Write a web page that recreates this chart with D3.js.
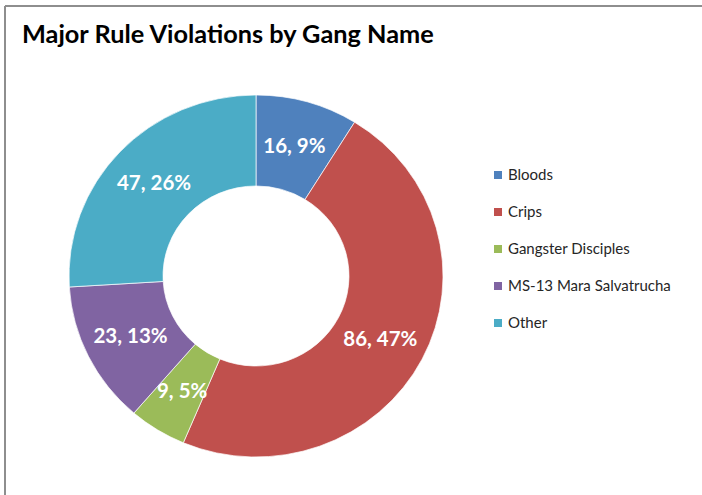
<!DOCTYPE html>
<html>
<head>
<meta charset="utf-8">
<script src="https://cdn.jsdelivr.net/npm/d3@7"></script>
<style>
  body { margin: 0; background: #fff; }
  svg { display: block; }
</style>
</head>
<body>
<div id="chart"></div>
<script>
const gangs = ["Bloods", "Crips", "Gangster Disciples", "MS-13 Mara Salvatrucha", "Other"];
const counts = [16, 86, 9, 23, 47];
const percentLabels = ["9%", "47%", "5%", "13%", "26%"];
const colors = ["#4F81BD", "#C0504D", "#9BBB59", "#8064A2", "#4BACC6"];

const width = 702, height = 495;
const cx = 256, cy = 276;
const outerR = 187, innerR = 93;
const squash = 181 / 187;   // the picture is a bit flatter than round

const svg = d3.select("#chart").append("svg")
    .attr("width", width)
    .attr("height", height);

// frame (only top and left edges show)
svg.append("line")
    .attr("x1", 5).attr("x2", width).attr("y1", 6).attr("y2", 6)
    .style("stroke", "#8e8e8e").style("stroke-width", 2);
svg.append("line")
    .attr("x1", 5).attr("x2", 5).attr("y1", 6).attr("y2", height)
    .style("stroke", "#8e8e8e").style("stroke-width", 2);

svg.append("text")
    .attr("x", 22)
    .attr("y", 43)
    .attr("font-family", "Lato, 'Open Sans', sans-serif")
    .attr("font-weight", "bold")
    .attr("font-size", 25.3)
    .attr("fill", "#000")
    .text("Major Rule Violations by Gang Name");

const data = gangs.map((g, i) => ({ name: g, value: counts[i], pct: percentLabels[i], color: colors[i] }));

const pie = d3.pie().value(d => d.value).sort(null);
const arcs = pie(data);

const arc = d3.arc().innerRadius(innerR).outerRadius(outerR);
const labelArc = d3.arc().innerRadius((innerR + outerR) / 2).outerRadius((innerR + outerR) / 2);

const donut = svg.append("g")
    .attr("transform", `translate(${cx},${cy}) scale(1,${squash})`);

donut.selectAll("path")
    .data(arcs)
    .join("path")
    .attr("d", arc)
    .attr("fill", d => d.data.color)
    .attr("stroke", "#fff")
    .attr("stroke-width", 0.7);

svg.append("g")
    .selectAll("text")
    .data(arcs)
    .join("text")
    .attr("x", d => cx + labelArc.centroid(d)[0])
    .attr("y", d => cy + 2 + labelArc.centroid(d)[1] * squash)
    .attr("text-anchor", "middle")
    .attr("dominant-baseline", "middle")
    .attr("font-family", "Lato, 'Open Sans', sans-serif")
    .attr("font-weight", "bold")
    .attr("font-size", 20.5)
    .attr("fill", "#fff")
    .text(d => `${d.data.value}, ${d.data.pct}`);

// legend
const legendY = d3.scalePoint().domain(gangs).range([175, 323]);

const legend = svg.append("g")
    .selectAll("g")
    .data(data)
    .join("g")
    .attr("transform", d => `translate(494,${legendY(d.name)})`);

legend.append("rect")
    .attr("x", 0)
    .attr("y", -4)
    .attr("width", 8)
    .attr("height", 8)
    .attr("fill", d => d.color);

legend.append("text")
    .attr("x", 14)
    .attr("y", 1)
    .attr("dominant-baseline", "middle")
    .attr("font-family", "Lato, 'Open Sans', sans-serif")
    .attr("font-size", 15)
    .attr("fill", "#262626")
    .text(d => d.name);
</script>
</body>
</html>
